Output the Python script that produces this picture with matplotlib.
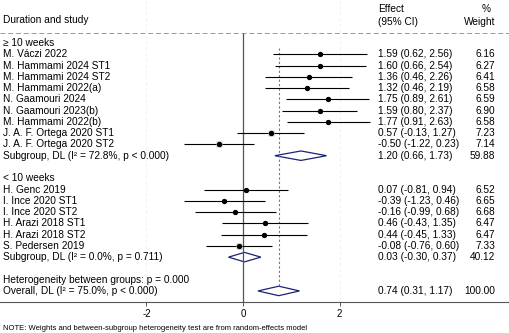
import numpy as np
import matplotlib.pyplot as plt
from matplotlib.transforms import blended_transform_factory
from matplotlib.patches import Polygon

plt.rcParams['font.family'] = ['Liberation Sans', 'DejaVu Sans']

group1_label = "\u2265 10 weeks"
group1_studies = ["M. Váczi 2022", "M. Hammami 2024 ST1", "M. Hammami 2024 ST2",
                  "M. Hammami 2022(a)", "N. Gaamouri 2024", "N. Gaamouri 2023(b)",
                  "M. Hammami 2022(b)", "J. A. F. Ortega 2020 ST1", "J. A. F. Ortega 2020 ST2"]
group1_es = [1.59, 1.60, 1.36, 1.32, 1.75, 1.59, 1.77, 0.57, -0.50]
group1_lo = [0.62, 0.66, 0.46, 0.46, 0.89, 0.80, 0.91, -0.13, -1.22]
group1_hi = [2.56, 2.54, 2.26, 2.19, 2.61, 2.37, 2.63, 1.27, 0.23]
group1_w = [6.16, 6.27, 6.41, 6.58, 6.59, 6.90, 6.58, 7.23, 7.14]
group1_sub = (1.20, 0.66, 1.73, 59.88)
group1_sub_label = "Subgroup, DL (I² = 72.8%, p < 0.000)"

group2_label = "< 10 weeks"
group2_studies = ["H. Genc 2019", "I. Ince 2020 ST1", "I. Ince 2020 ST2",
                  "H. Arazi 2018 ST1", "H. Arazi 2018 ST2", "S. Pedersen 2019"]
group2_es = [0.07, -0.39, -0.16, 0.46, 0.44, -0.08]
group2_lo = [-0.81, -1.23, -0.99, -0.43, -0.45, -0.76]
group2_hi = [0.94, 0.46, 0.68, 1.35, 1.33, 0.60]
group2_w = [6.52, 6.65, 6.68, 6.47, 6.47, 7.33]
group2_sub = (0.03, -0.30, 0.37, 40.12)
group2_sub_label = "Subgroup, DL (I² = 0.0%, p = 0.711)"

het_label = "Heterogeneity between groups: p = 0.000"
overall = (0.74, 0.31, 1.17, 100.00)
overall_label = "Overall, DL (I² = 75.0%, p < 0.000)"
note = "NOTE: Weights and between-subgroup heterogeneity test are from random-effects model"

W, H = 509, 333
fig = plt.figure(figsize=(W / 100, H / 100), dpi=100)
ax = fig.add_axes([0, (H - 302) / H, 1, 302 / H])

# pixel -> data mapping
x0_px, px_per_unit = 243, 48.3
ax.set_xlim((0 - x0_px) / px_per_unit, (W - x0_px) / px_per_unit)
row0_px, row_px = 43, 11.27
ax.set_ylim((302 - row0_px) / row_px, (0 - row0_px) / row_px)
top_line = (33 - row0_px) / row_px
bottom = (302 - row0_px) / row_px

for s in ['top', 'left', 'right']:
    ax.spines[s].set_visible(False)
ax.spines['bottom'].set_color('#555555')
ax.spines['bottom'].set_linewidth(0.8)
ax.set_yticks([])
ax.set_xticks([-2, 0, 2])
ax.set_xticklabels(['-2', '0', '2'], fontsize=7)
ax.tick_params(axis='x', length=3, width=0.7, color='#555555', pad=2)

tr = blended_transform_factory(fig.transFigure, ax.transData)
fs = 7.3
lab_x = 3 / W
eff_x = 378 / W
wt_x = 495 / W

# faint grid
for g in [-2, 2]:
    ax.vlines(g, ax.get_ylim()[1], bottom, color='#efefef', lw=0.6, ls=(0, (4, 3)))

# header
ax.text(lab_x, (20 - row0_px) / row_px, "Duration and study", transform=tr, fontsize=fs, va='center')
ax.text(eff_x, (9 - row0_px) / row_px, "Effect", transform=tr, fontsize=fs, va='center')
ax.text(eff_x, (22 - row0_px) / row_px, "(95% CI)", transform=tr, fontsize=fs, va='center')
ax.text(491 / W, (9 - row0_px) / row_px, "%", transform=tr, fontsize=fs, va='center', ha='right')
ax.text(wt_x, (22 - row0_px) / row_px, "Weight", transform=tr, fontsize=fs, va='center', ha='right')
ax.plot([0, 1], [top_line, top_line], transform=tr, color='#9a9a9a', lw=0.7,
        ls=(0, (5, 3)), clip_on=False)

# reference lines
ax.vlines(0, top_line, bottom, color='#555555', lw=0.9)
ax.vlines(overall[0], 0.4, 21.55, color='#c8506a', lw=0.8, ls=(0, (2, 2)))


def fmt(es, lo, hi):
    return f"{es:.2f} ({lo:.2f}, {hi:.2f})"


def diamond(y, es, lo, hi):
    h = 0.42
    ax.add_patch(Polygon([[lo, y], [es, y - h], [hi, y], [es, y + h]], closed=True,
                         fill=False, edgecolor='#1c2275', lw=0.9))


def draw_group(start, label, studies, es, lo, hi, w, sub, sub_label):
    ax.text(lab_x, start, label, transform=tr, fontsize=fs, va='center')
    for i, name in enumerate(studies):
        y = start + 1 + i
        ax.text(lab_x, y, name, transform=tr, fontsize=fs, va='center')
        ax.hlines(y, lo[i], hi[i], color='black', lw=0.8)
        ax.plot(es[i], y, marker='s', ms=np.sqrt(w[i]) * 1.35, color='#c4c4c4', mec='none')
        ax.plot(es[i], y, marker='o', ms=2.8, color='black')
        ax.text(eff_x, y, fmt(es[i], lo[i], hi[i]), transform=tr, fontsize=fs, va='center')
        ax.text(wt_x, y, f"{w[i]:.2f}", transform=tr, fontsize=fs, va='center', ha='right')
    ys = start + 1 + len(studies)
    ax.text(lab_x, ys, sub_label, transform=tr, fontsize=fs, va='center')
    diamond(ys, sub[0], sub[1], sub[2])
    ax.text(eff_x, ys, fmt(*sub[:3]), transform=tr, fontsize=fs, va='center')
    ax.text(wt_x, ys, f"{sub[3]:.2f}", transform=tr, fontsize=fs, va='center', ha='right')
    return ys


end1 = draw_group(0, group1_label, group1_studies, group1_es, group1_lo, group1_hi,
                  group1_w, group1_sub, group1_sub_label)
end2 = draw_group(end1 + 2, group2_label, group2_studies, group2_es, group2_lo, group2_hi,
                  group2_w, group2_sub, group2_sub_label)

yh = end2 + 2
ax.text(lab_x, yh, het_label, transform=tr, fontsize=fs, va='center')
yo = yh + 1
ax.text(lab_x, yo, overall_label, transform=tr, fontsize=fs, va='center')
diamond(yo, overall[0], overall[1], overall[2])
ax.text(eff_x, yo, fmt(*overall[:3]), transform=tr, fontsize=fs, va='center')
ax.text(wt_x, yo, f"{overall[3]:.2f}", transform=tr, fontsize=fs, va='center', ha='right')

fig.text(lab_x, 1 - 328 / H, note, fontsize=5.5, va='center')

fig.savefig("out.png", dpi=100)
